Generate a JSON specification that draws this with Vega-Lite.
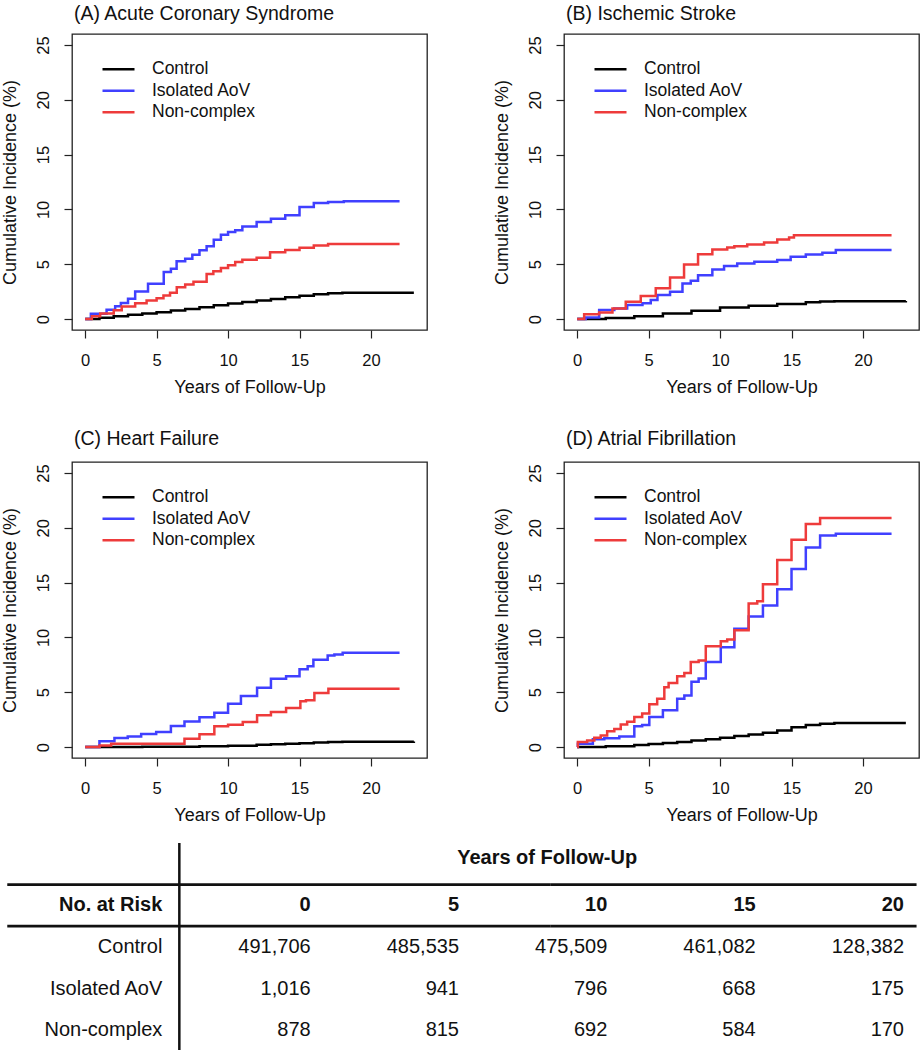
{
  "$schema": "https://vega.github.io/schema/vega-lite/v6.json",
  "background": "white",
  "padding": {"left": 0, "top": 2, "right": 0, "bottom": 0},
  "config": {
    "font": "Liberation Sans",
    "view": {"stroke": "#222", "strokeWidth": 1.3},
    "axis": {
      "domain": false, "grid": false,
      "tickColor": "#222", "tickSize": 8, "tickWidth": 1.2,
      "labelFontSize": 16.5, "labelColor": "#111", "labelFont": "Liberation Sans",
      "titleFontSize": 18, "titleFontWeight": "normal", "titleColor": "#111", "titleFont": "Liberation Sans"
    },
    "legend": {
      "title": null, "orient": "none", "legendX": 29, "legendY": 26.5,
      "symbolType": "stroke", "symbolSize": 1024, "symbolStrokeWidth": 2.5, "clipHeight": 17.5,
      "labelFontSize": 17.5, "labelColor": "#111", "labelOffset": 16, "rowPadding": 2.5, "padding": 0
    },
    "line": {"interpolate": "step-after", "strokeWidth": 2.5}
  },
  "datasets": {
    "acs": [
      {"g":"Control","t":0,"v":0},{"g":"Control","t":1,"v":0.12},{"g":"Control","t":2,"v":0.25},{"g":"Control","t":3,"v":0.38},{"g":"Control","t":4,"v":0.5},{"g":"Control","t":5,"v":0.63},{"g":"Control","t":6,"v":0.78},{"g":"Control","t":7,"v":0.92},{"g":"Control","t":8,"v":1.08},{"g":"Control","t":9,"v":1.25},{"g":"Control","t":10,"v":1.42},{"g":"Control","t":11,"v":1.55},{"g":"Control","t":12,"v":1.68},{"g":"Control","t":13,"v":1.83},{"g":"Control","t":14,"v":1.98},{"g":"Control","t":15,"v":2.12},{"g":"Control","t":16,"v":2.25},{"g":"Control","t":17,"v":2.35},{"g":"Control","t":18,"v":2.4},{"g":"Control","t":23,"v":2.4},
      {"g":"Isolated AoV","t":0,"v":0},{"g":"Isolated AoV","t":0.4,"v":0.49},{"g":"Isolated AoV","t":1.5,"v":0.85},{"g":"Isolated AoV","t":2.1,"v":1.16},{"g":"Isolated AoV","t":2.5,"v":1.46},{"g":"Isolated AoV","t":3.0,"v":1.86},{"g":"Isolated AoV","t":3.5,"v":2.52},{"g":"Isolated AoV","t":4.4,"v":3.22},{"g":"Isolated AoV","t":5.5,"v":4.29},{"g":"Isolated AoV","t":6.0,"v":4.59},{"g":"Isolated AoV","t":6.4,"v":5.26},{"g":"Isolated AoV","t":7.0,"v":5.5},{"g":"Isolated AoV","t":7.5,"v":5.87},{"g":"Isolated AoV","t":8.0,"v":6.27},{"g":"Isolated AoV","t":8.5,"v":6.63},{"g":"Isolated AoV","t":9.0,"v":7.24},{"g":"Isolated AoV","t":9.5,"v":7.69},{"g":"Isolated AoV","t":10.0,"v":7.94},{"g":"Isolated AoV","t":10.5,"v":8.09},{"g":"Isolated AoV","t":11.0,"v":8.45},{"g":"Isolated AoV","t":12.0,"v":8.85},{"g":"Isolated AoV","t":13.0,"v":9.15},{"g":"Isolated AoV","t":14.0,"v":9.46},{"g":"Isolated AoV","t":15.0,"v":10.22},{"g":"Isolated AoV","t":16.0,"v":10.58},{"g":"Isolated AoV","t":17.0,"v":10.68},{"g":"Isolated AoV","t":18.1,"v":10.74},{"g":"Isolated AoV","t":22,"v":10.74},
      {"g":"Non-complex","t":0,"v":0},{"g":"Non-complex","t":0.47,"v":0.25},{"g":"Non-complex","t":1.05,"v":0.5},{"g":"Non-complex","t":2.0,"v":0.8},{"g":"Non-complex","t":2.56,"v":1.15},{"g":"Non-complex","t":3.5,"v":1.45},{"g":"Non-complex","t":4.3,"v":1.7},{"g":"Non-complex","t":5.0,"v":1.9},{"g":"Non-complex","t":5.48,"v":2.15},{"g":"Non-complex","t":5.94,"v":2.4},{"g":"Non-complex","t":6.41,"v":2.9},{"g":"Non-complex","t":7.0,"v":3.15},{"g":"Non-complex","t":7.58,"v":3.4},{"g":"Non-complex","t":8.5,"v":4.1},{"g":"Non-complex","t":8.97,"v":4.35},{"g":"Non-complex","t":9.5,"v":4.65},{"g":"Non-complex","t":10.0,"v":4.9},{"g":"Non-complex","t":10.5,"v":5.2},{"g":"Non-complex","t":11.0,"v":5.4},{"g":"Non-complex","t":12.0,"v":5.6},{"g":"Non-complex","t":12.94,"v":6.1},{"g":"Non-complex","t":14.0,"v":6.3},{"g":"Non-complex","t":15.0,"v":6.5},{"g":"Non-complex","t":16.0,"v":6.7},{"g":"Non-complex","t":17.0,"v":6.85},{"g":"Non-complex","t":22,"v":6.85}
    ],
    "stroke": [
      {"g":"Control","t":0,"v":0},{"g":"Control","t":2,"v":0.1},{"g":"Control","t":4,"v":0.25},{"g":"Control","t":6,"v":0.5},{"g":"Control","t":8,"v":0.75},{"g":"Control","t":10,"v":1.05},{"g":"Control","t":12,"v":1.22},{"g":"Control","t":14,"v":1.38},{"g":"Control","t":16,"v":1.52},{"g":"Control","t":17,"v":1.6},{"g":"Control","t":18,"v":1.63},{"g":"Control","t":23,"v":1.65},
      {"g":"Isolated AoV","t":0,"v":0},{"g":"Isolated AoV","t":0.6,"v":0.15},{"g":"Isolated AoV","t":1.54,"v":0.82},{"g":"Isolated AoV","t":2.6,"v":0.97},{"g":"Isolated AoV","t":3.5,"v":1.28},{"g":"Isolated AoV","t":4.57,"v":1.43},{"g":"Isolated AoV","t":5.15,"v":1.73},{"g":"Isolated AoV","t":5.62,"v":2.19},{"g":"Isolated AoV","t":6.5,"v":2.49},{"g":"Isolated AoV","t":7.37,"v":3.25},{"g":"Isolated AoV","t":7.95,"v":3.49},{"g":"Isolated AoV","t":8.46,"v":4.0},{"g":"Isolated AoV","t":9.46,"v":4.53},{"g":"Isolated AoV","t":10.28,"v":4.83},{"g":"Isolated AoV","t":11.2,"v":5.07},{"g":"Isolated AoV","t":12.4,"v":5.22},{"g":"Isolated AoV","t":14.0,"v":5.38},{"g":"Isolated AoV","t":14.94,"v":5.68},{"g":"Isolated AoV","t":16.0,"v":5.89},{"g":"Isolated AoV","t":17.16,"v":6.04},{"g":"Isolated AoV","t":18.1,"v":6.29},{"g":"Isolated AoV","t":22,"v":6.29},
      {"g":"Non-complex","t":0,"v":0},{"g":"Non-complex","t":0.49,"v":0.43},{"g":"Non-complex","t":1.54,"v":0.6},{"g":"Non-complex","t":2.47,"v":0.97},{"g":"Non-complex","t":3.4,"v":1.58},{"g":"Non-complex","t":4.45,"v":2.1},{"g":"Non-complex","t":5.5,"v":2.8},{"g":"Non-complex","t":6.5,"v":3.8},{"g":"Non-complex","t":7.48,"v":4.98},{"g":"Non-complex","t":8.46,"v":5.92},{"g":"Non-complex","t":9.46,"v":6.35},{"g":"Non-complex","t":10.5,"v":6.53},{"g":"Non-complex","t":11.0,"v":6.65},{"g":"Non-complex","t":11.9,"v":6.8},{"g":"Non-complex","t":13.08,"v":6.99},{"g":"Non-complex","t":14.0,"v":7.26},{"g":"Non-complex","t":14.83,"v":7.44},{"g":"Non-complex","t":15.17,"v":7.65},{"g":"Non-complex","t":22,"v":7.65}
    ],
    "hf": [
      {"g":"Control","t":0,"v":0},{"g":"Control","t":4,"v":0.02},{"g":"Control","t":8,"v":0.07},{"g":"Control","t":10,"v":0.12},{"g":"Control","t":12,"v":0.2},{"g":"Control","t":13,"v":0.25},{"g":"Control","t":14,"v":0.3},{"g":"Control","t":15,"v":0.35},{"g":"Control","t":16,"v":0.42},{"g":"Control","t":17,"v":0.46},{"g":"Control","t":18,"v":0.48},{"g":"Control","t":23,"v":0.5},
      {"g":"Isolated AoV","t":0,"v":0},{"g":"Isolated AoV","t":1.0,"v":0.52},{"g":"Isolated AoV","t":2.05,"v":0.82},{"g":"Isolated AoV","t":2.98,"v":0.97},{"g":"Isolated AoV","t":3.92,"v":1.19},{"g":"Isolated AoV","t":4.97,"v":1.37},{"g":"Isolated AoV","t":6.0,"v":1.92},{"g":"Isolated AoV","t":6.95,"v":2.34},{"g":"Isolated AoV","t":8.0,"v":2.71},{"g":"Isolated AoV","t":9.04,"v":3.13},{"g":"Isolated AoV","t":10.0,"v":3.95},{"g":"Isolated AoV","t":10.9,"v":4.65},{"g":"Isolated AoV","t":12.03,"v":5.41},{"g":"Isolated AoV","t":13.0,"v":6.23},{"g":"Isolated AoV","t":14.06,"v":6.45},{"g":"Isolated AoV","t":15.0,"v":7.09},{"g":"Isolated AoV","t":15.57,"v":7.36},{"g":"Isolated AoV","t":15.97,"v":7.97},{"g":"Isolated AoV","t":16.97,"v":8.36},{"g":"Isolated AoV","t":17.44,"v":8.45},{"g":"Isolated AoV","t":18.02,"v":8.6},{"g":"Isolated AoV","t":22,"v":8.6},
      {"g":"Non-complex","t":0,"v":0},{"g":"Non-complex","t":1.0,"v":0.15},{"g":"Non-complex","t":1.82,"v":0.3},{"g":"Non-complex","t":6.95,"v":0.76},{"g":"Non-complex","t":8.0,"v":1.16},{"g":"Non-complex","t":9.04,"v":1.89},{"g":"Non-complex","t":10.0,"v":2.04},{"g":"Non-complex","t":11.03,"v":2.28},{"g":"Non-complex","t":12.03,"v":2.89},{"g":"Non-complex","t":13.0,"v":3.19},{"g":"Non-complex","t":14.06,"v":3.56},{"g":"Non-complex","t":15.06,"v":4.17},{"g":"Non-complex","t":15.45,"v":4.26},{"g":"Non-complex","t":16.04,"v":4.93},{"g":"Non-complex","t":17.02,"v":5.32},{"g":"Non-complex","t":22,"v":5.32}
    ],
    "af": [
      {"g":"Control","t":0,"v":0},{"g":"Control","t":2,"v":0.08},{"g":"Control","t":4,"v":0.18},{"g":"Control","t":5,"v":0.27},{"g":"Control","t":6,"v":0.36},{"g":"Control","t":7,"v":0.46},{"g":"Control","t":8,"v":0.6},{"g":"Control","t":9,"v":0.72},{"g":"Control","t":10,"v":0.85},{"g":"Control","t":11,"v":1.0},{"g":"Control","t":12,"v":1.15},{"g":"Control","t":13,"v":1.3},{"g":"Control","t":14,"v":1.5},{"g":"Control","t":15,"v":1.8},{"g":"Control","t":16,"v":2.0},{"g":"Control","t":17,"v":2.12},{"g":"Control","t":18,"v":2.2},{"g":"Control","t":23,"v":2.2},
      {"g":"Isolated AoV","t":0,"v":0},{"g":"Isolated AoV","t":0.05,"v":0.3},{"g":"Isolated AoV","t":1.1,"v":0.7},{"g":"Isolated AoV","t":1.9,"v":0.8},{"g":"Isolated AoV","t":2.95,"v":0.95},{"g":"Isolated AoV","t":4.0,"v":1.9},{"g":"Isolated AoV","t":4.55,"v":2.0},{"g":"Isolated AoV","t":5.05,"v":2.75},{"g":"Isolated AoV","t":6.0,"v":3.35},{"g":"Isolated AoV","t":7.0,"v":4.4},{"g":"Isolated AoV","t":7.5,"v":4.7},{"g":"Isolated AoV","t":8.0,"v":5.95},{"g":"Isolated AoV","t":8.5,"v":6.25},{"g":"Isolated AoV","t":9.0,"v":7.75},{"g":"Isolated AoV","t":10.05,"v":9.1},{"g":"Isolated AoV","t":11.0,"v":10.8},{"g":"Isolated AoV","t":12.0,"v":11.9},{"g":"Isolated AoV","t":13.0,"v":12.9},{"g":"Isolated AoV","t":14.0,"v":14.4},{"g":"Isolated AoV","t":15.0,"v":16.25},{"g":"Isolated AoV","t":16.0,"v":18.2},{"g":"Isolated AoV","t":17.0,"v":19.3},{"g":"Isolated AoV","t":18.1,"v":19.45},{"g":"Isolated AoV","t":22,"v":19.45},
      {"g":"Non-complex","t":0,"v":0},{"g":"Non-complex","t":0.05,"v":0.45},{"g":"Non-complex","t":0.7,"v":0.6},{"g":"Non-complex","t":1.2,"v":0.85},{"g":"Non-complex","t":1.65,"v":1.05},{"g":"Non-complex","t":2.1,"v":1.45},{"g":"Non-complex","t":2.6,"v":1.65},{"g":"Non-complex","t":3.05,"v":2.05},{"g":"Non-complex","t":3.5,"v":2.3},{"g":"Non-complex","t":4.0,"v":2.75},{"g":"Non-complex","t":4.55,"v":3.05},{"g":"Non-complex","t":5.05,"v":3.9},{"g":"Non-complex","t":5.6,"v":4.4},{"g":"Non-complex","t":6.1,"v":5.45},{"g":"Non-complex","t":6.4,"v":5.85},{"g":"Non-complex","t":7.0,"v":6.45},{"g":"Non-complex","t":7.5,"v":6.75},{"g":"Non-complex","t":7.95,"v":7.75},{"g":"Non-complex","t":8.5,"v":7.9},{"g":"Non-complex","t":9.0,"v":9.2},{"g":"Non-complex","t":10.05,"v":9.65},{"g":"Non-complex","t":10.5,"v":9.8},{"g":"Non-complex","t":11.0,"v":10.65},{"g":"Non-complex","t":12.0,"v":13.1},{"g":"Non-complex","t":12.6,"v":13.3},{"g":"Non-complex","t":13.0,"v":14.85},{"g":"Non-complex","t":14.0,"v":17.05},{"g":"Non-complex","t":15.0,"v":18.9},{"g":"Non-complex","t":16.0,"v":20.35},{"g":"Non-complex","t":17.0,"v":20.9},{"g":"Non-complex","t":22,"v":20.9}
    ],
    "risk": [
      {"row":"No. at Risk","col":"lab","txt":"No. at Risk"},{"row":"No. at Risk","col":"0","txt":"0"},{"row":"No. at Risk","col":"5","txt":"5"},{"row":"No. at Risk","col":"10","txt":"10"},{"row":"No. at Risk","col":"15","txt":"15"},{"row":"No. at Risk","col":"20","txt":"20"},
      {"row":"Control","col":"lab","txt":"Control"},{"row":"Control","col":"0","txt":"491,706"},{"row":"Control","col":"5","txt":"485,535"},{"row":"Control","col":"10","txt":"475,509"},{"row":"Control","col":"15","txt":"461,082"},{"row":"Control","col":"20","txt":"128,382"},
      {"row":"Isolated AoV","col":"lab","txt":"Isolated AoV"},{"row":"Isolated AoV","col":"0","txt":"1,016"},{"row":"Isolated AoV","col":"5","txt":"941"},{"row":"Isolated AoV","col":"10","txt":"796"},{"row":"Isolated AoV","col":"15","txt":"668"},{"row":"Isolated AoV","col":"20","txt":"175"},
      {"row":"Non-complex","col":"lab","txt":"Non-complex"},{"row":"Non-complex","col":"0","txt":"878"},{"row":"Non-complex","col":"5","txt":"815"},{"row":"Non-complex","col":"10","txt":"692"},{"row":"Non-complex","col":"15","txt":"584"},{"row":"Non-complex","col":"20","txt":"170"}
    ],
    "hlines": [
      {"line":"top","from":"lab","to":"10","row":"No. at Risk"},
      {"line":"bottom","from":"lab","to":"10","row":"Control"}
    ],
    "hlines2": [
      {"line":"top","from":"20","to":"10","row":"No. at Risk"},
      {"line":"bottom","from":"20","to":"10","row":"Control"}
    ]
  },
  "columns": 1,
  "align": "none",
  "spacing": 15,
  "concat": [
    {
      "columns": 2,
      "bounds": "flush",
      "spacing": {"row": 132, "column": 137},
      "resolve": {"scale": {"color": "independent"}, "legend": {"color": "independent"}},
      "concat": [
        {
          "width": 355, "height": 296,
          "title": {"text": "(A) Acute Coronary Syndrome", "anchor": "start", "frame": "group", "dx": 2, "offset": -5, "baseline": "alphabetic", "fontSize": 19.5, "fontWeight": "normal", "color": "#111"},
          "data": {"name": "acs"},
          "mark": {"type": "line"},
          "encoding": {
            "x": {"field": "t", "type": "quantitative", "scale": {"domain": [-0.92, 23.92], "nice": false, "zero": false}, "axis": {"values": [0, 5, 10, 15, 20], "title": "Years of Follow-Up", "labelPadding": 14, "titlePadding": 10}},
            "y": {"field": "v", "type": "quantitative", "scale": {"domain": [-1, 26], "nice": false, "zero": false}, "axis": {"values": [0, 5, 10, 15, 20, 25], "title": "Cumulative Incidence (%)", "labelAngle": -90, "labelAlign": "center", "labelBaseline": "alphabetic", "labelPadding": 16, "titlePadding": 16}},
            "color": {"field": "g", "type": "nominal", "scale": {"domain": ["Control", "Isolated AoV", "Non-complex"], "range": ["#000000", "#4040ff", "#ee3b3b"]}}
          }
        },
        {
          "width": 355, "height": 296,
          "title": {"text": "(B) Ischemic Stroke", "anchor": "start", "frame": "group", "dx": 2, "offset": -5, "baseline": "alphabetic", "fontSize": 19.5, "fontWeight": "normal", "color": "#111"},
          "data": {"name": "stroke"},
          "mark": {"type": "line"},
          "encoding": {
            "x": {"field": "t", "type": "quantitative", "scale": {"domain": [-0.92, 23.92], "nice": false, "zero": false}, "axis": {"values": [0, 5, 10, 15, 20], "title": "Years of Follow-Up", "labelPadding": 14, "titlePadding": 10}},
            "y": {"field": "v", "type": "quantitative", "scale": {"domain": [-1, 26], "nice": false, "zero": false}, "axis": {"values": [0, 5, 10, 15, 20, 25], "title": "Cumulative Incidence (%)", "labelAngle": -90, "labelAlign": "center", "labelBaseline": "alphabetic", "labelPadding": 16, "titlePadding": 16}},
            "color": {"field": "g", "type": "nominal", "scale": {"domain": ["Control", "Isolated AoV", "Non-complex"], "range": ["#000000", "#4040ff", "#ee3b3b"]}}
          }
        },
        {
          "width": 355, "height": 296,
          "title": {"text": "(C) Heart Failure", "anchor": "start", "frame": "group", "dx": 2, "offset": -2, "baseline": "alphabetic", "fontSize": 19.5, "fontWeight": "normal", "color": "#111"},
          "data": {"name": "hf"},
          "mark": {"type": "line"},
          "encoding": {
            "x": {"field": "t", "type": "quantitative", "scale": {"domain": [-0.92, 23.92], "nice": false, "zero": false}, "axis": {"values": [0, 5, 10, 15, 20], "title": "Years of Follow-Up", "labelPadding": 14, "titlePadding": 10}},
            "y": {"field": "v", "type": "quantitative", "scale": {"domain": [-1, 26], "nice": false, "zero": false}, "axis": {"values": [0, 5, 10, 15, 20, 25], "title": "Cumulative Incidence (%)", "labelAngle": -90, "labelAlign": "center", "labelBaseline": "alphabetic", "labelPadding": 16, "titlePadding": 16}},
            "color": {"field": "g", "type": "nominal", "scale": {"domain": ["Control", "Isolated AoV", "Non-complex"], "range": ["#000000", "#4040ff", "#ee3b3b"]}}
          }
        },
        {
          "width": 355, "height": 296,
          "title": {"text": "(D) Atrial Fibrillation", "anchor": "start", "frame": "group", "dx": 2, "offset": -2, "baseline": "alphabetic", "fontSize": 19.5, "fontWeight": "normal", "color": "#111"},
          "data": {"name": "af"},
          "mark": {"type": "line"},
          "encoding": {
            "x": {"field": "t", "type": "quantitative", "scale": {"domain": [-0.92, 23.92], "nice": false, "zero": false}, "axis": {"values": [0, 5, 10, 15, 20], "title": "Years of Follow-Up", "labelPadding": 14, "titlePadding": 10}},
            "y": {"field": "v", "type": "quantitative", "scale": {"domain": [-1, 26], "nice": false, "zero": false}, "axis": {"values": [0, 5, 10, 15, 20, 25], "title": "Cumulative Incidence (%)", "labelAngle": -90, "labelAlign": "center", "labelBaseline": "alphabetic", "labelPadding": 16, "titlePadding": 16}},
            "color": {"field": "g", "type": "nominal", "scale": {"domain": ["Control", "Isolated AoV", "Non-complex"], "range": ["#000000", "#4040ff", "#ee3b3b"]}}
          }
        }
      ]
    },
    {
      "width": 849, "height": 208,
      "view": {"stroke": null},
      "layer": [
        {
          "data": {"name": "risk"},
          "transform": [{"filter": "datum.row !== 'No. at Risk'"}],
          "mark": {"type": "text", "align": "right", "baseline": "middle", "fontSize": 20, "dx": -17, "color": "#111"},
          "encoding": {
            "x": {"field": "col", "type": "nominal", "bandPosition": 1, "scale": {"type": "band", "domain": ["lab", "0", "5", "10", "15", "20"], "paddingInner": 0, "paddingOuter": 0, "range": [-41, 849]}, "axis": null},
            "y": {"field": "row", "type": "nominal", "scale": {"type": "band", "domain": ["hdr", "No. at Risk", "Control", "Isolated AoV", "Non-complex"], "paddingInner": 0, "paddingOuter": 0}, "axis": null},
            "text": {"field": "txt"}
          }
        },
        {
          "data": {"name": "risk"},
          "transform": [{"filter": "datum.row === 'No. at Risk'"}],
          "mark": {"type": "text", "align": "right", "baseline": "middle", "fontSize": 20, "fontWeight": "bold", "dx": -17, "color": "#111"},
          "encoding": {
            "x": {"field": "col", "type": "nominal", "bandPosition": 1},
            "y": {"field": "row", "type": "nominal"},
            "text": {"field": "txt"}
          }
        },
        {
          "data": {"values": [{"h": "Years of Follow-Up"}]},
          "mark": {"type": "text", "align": "center", "baseline": "middle", "fontSize": 20, "fontWeight": "bold", "dx": -3, "dy": -6, "color": "#111"},
          "encoding": {
            "x": {"datum": "10", "type": "nominal"},
            "y": {"datum": "hdr", "type": "nominal"},
            "text": {"field": "h"}
          }
        },
        {
          "data": {"name": "hlines"},
          "mark": {"type": "rule", "strokeWidth": 2.7, "color": "#111"},
          "encoding": {
            "x": {"field": "from", "type": "nominal", "bandPosition": -0.16},
            "x2": {"field": "to"},
            "y": {"field": "row", "type": "nominal", "bandPosition": 0}
          }
        },
        {
          "data": {"name": "hlines2"},
          "mark": {"type": "rule", "strokeWidth": 2.7, "color": "#111"},
          "encoding": {
            "x": {"field": "from", "type": "nominal", "bandPosition": 0.97},
            "x2": {"field": "to"},
            "y": {"field": "row", "type": "nominal", "bandPosition": 0}
          }
        },
        {
          "data": {"values": [{}]},
          "mark": {"type": "rule", "strokeWidth": 2.5, "color": "#111"},
          "encoding": {"x": {"datum": "0", "type": "nominal", "bandPosition": 0}}
        }
      ]
    }
  ]
}
